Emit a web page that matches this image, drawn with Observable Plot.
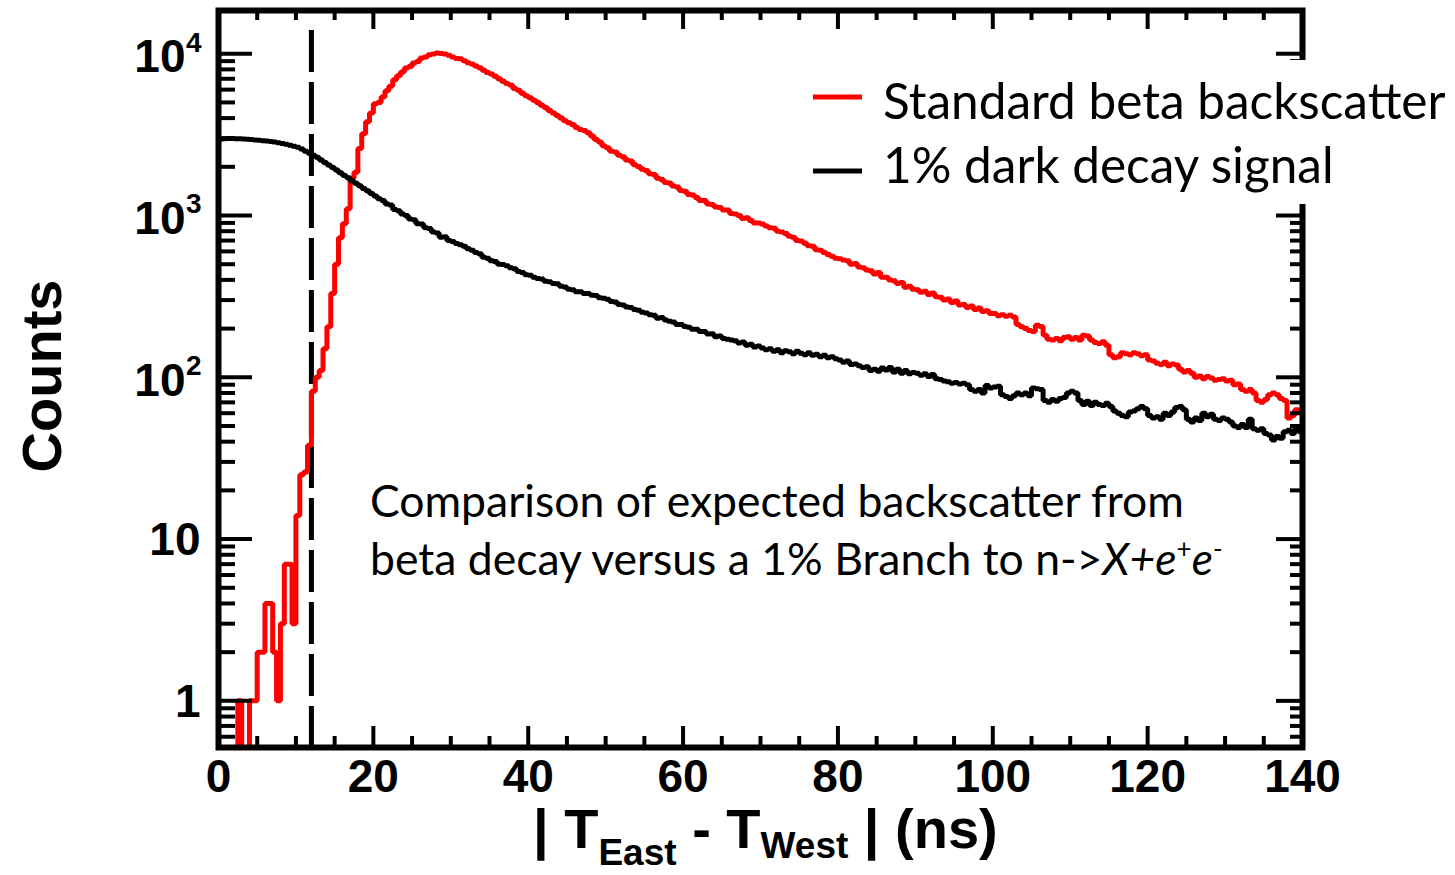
<!DOCTYPE html>
<html><head><meta charset="utf-8">
<script src="https://cdn.jsdelivr.net/npm/d3@7"></script>
<script src="https://cdn.jsdelivr.net/npm/@observablehq/plot@0.6"></script>
<style>
html,body{margin:0;padding:0;background:#fff;}
#chart{position:relative;width:1455px;height:875px;overflow:hidden;background:#fff;}
#chart svg{position:absolute;left:0;top:0;}
</style></head>
<body><div id="chart"></div>
<script>
// ---------------- data (0.5 ns bins, counts) ----------------
const binWidth = 0.5;
const redCounts = [
  0,0,0,0,0, 1,0,0,1,1, 2,2,4,4,2, 1,3,7,7,3,
  14,25,26,38,82,100,110,150,205,330, 500,730,890,1100,1700,1850,2600,3200,3800,4300,
  4900,5000,5400,5900,6300,6900,7300,7700,8150,8350, 8750,8950,9400,9550,9850,9950,10100,10050,9950,9800,
  9550,9350,9300,9050,8800,8650,8400,8200,7900,7650, 7500,7250,7000,6750,6550,6400,6100,5950,5700,5500,
  5350,5150,5000,4800,4650,4450,4300,4150,4000,3850, 3750,3650,3500,3400,3350,3250,3100,2950,2850,2700,
  2620,2500,2470,2360,2310,2200,2170,2060,2010,1930, 1900,1810,1790,1700,1670,1600,1590,1520,1500,1430,
  1410,1350,1340,1290,1240,1240,1180,1170,1130,1120, 1080,1080,1030,1020,1000,960,970,930,900,900,
  885,860,840,835,800,790,775,745,735,700, 695,675,650,645,615,610,590,575,560,545,
  540,530,525,500,505,480,475,460,455,435, 445,415,415,400,395,380,385,360,365,350,
  348,336,340,325,332,315,312,300,305,290, 296,280,282,270,276,262,268,255,258,248,
  248,240,244,238,242,236,212,205,200,195, 192,210,206,182,172,170,174,168,176,178,
  172,176,170,182,180,170,164,162,166,158, 138,132,134,142,140,138,142,140,136,138,
  128,126,122,120,124,118,121,119,112,108, 110,106,100,102,98,101,99,96,97,98,
  95,96,90,91,84,82,84,80,72,70, 73,78,80,78,74,72,56,58,63,61
];
const blackCounts = [
  2960,2980,2990,2990,2980,2980,2970,2960,2950,2930, 2920,2900,2890,2870,2850,2820,2790,2760,2720,2680,
  2640,2580,2500,2430,2360,2290,2200,2130,2050,1980, 1910,1840,1770,1710,1640,1580,1530,1470,1420,1370,
  1320,1270,1240,1180,1160,1090,1070,1020,1000,950, 940,890,885,840,830,790,780,735,740,700,
  692,672,660,645,622,610,590,580,552,545, 525,520,500,498,490,475,468,450,445,430,
  428,415,408,405,392,390,380,378,365,362, 350,348,338,338,330,330,322,320,310,308,
  304,294,292,282,280,272,270,262,260,252, 250,244,242,232,234,226,222,220,212,212,
  206,204,198,198,192,192,185,186,178,180, 174,172,170,168,163,165,158,160,154,156,
  152,148,150,145,148,142,146,144,140,145, 141,138,142,137,139,134,137,132,134,130,
  128,124,126,120,121,118,115,116,110,112, 109,114,111,115,108,112,106,110,105,107,
  106,103,105,101,104,98,97,95,94,92, 93,91,92,90,84,82,84,80,89,86,
  87,88,78,76,74,77,80,78,80,77, 86,85,84,72,70,73,71,74,75,80,
  82,80,72,68,71,67,70,68,67,69, 66,62,60,58,57,61,62,64,66,64,
  58,56,57,55,60,58,61,65,66,63, 55,53,56,54,60,57,59,55,54,56,
  55,53,50,49,51,49,55,48,47,48, 45,44,41,43,42,46,47,45,48,46
];
const seriesNames = ["Standard beta backscatter", "1% dark decay signal"];
const seriesColors = ["#ff0000", "#000000"];
const cutoffNs = 12;
const xDomain = [0, 140];
const yDomain = [0.515, 18500];
const xMajorTicks = [0, 20, 40, 60, 80, 100, 120, 140];
const yPlainTicks = [1, 10];
const yPowerTicks = [100, 1000, 10000];
const yPowerExponents = ["2", "3", "4"];
const xLabelParts = ["| T", "East", " - T", "West", " | (ns)"];
const yLabel = "Counts";
const noteLine1 = "Comparison of expected backscatter from";
const noteLine2 = "beta decay versus a 1% Branch to n->";

// ---------------- layout ----------------
const W = 1455, H = 875;
const mL = 218, mR = 153, mT = 10, mB = 128;
const innerW = W - mL - mR, innerH = H - mT - mB;

function histRows(counts) {
  const rows = counts.map((c, i) => ({x: i * binWidth, y: c > 0 ? c : 0.2}));
  rows.push({x: counts.length * binWidth, y: rows[rows.length - 1].y});
  return rows;
}
const redRows = histRows(redCounts);
const blackRows = histRows(blackCounts);

const xMinor = d3.range(5, 140, 5).filter(v => v % 20 !== 0);
const yMinor = [];
for (let d = -1; d <= 4; d++) for (let k = 2; k <= 9; k++) {
  const v = k * Math.pow(10, d);
  if (v > yDomain[0] && v < yDomain[1]) yMinor.push(v);
}
const yMajorAll = [...yPlainTicks, ...yPowerTicks];
const tk = {stroke: "#000", strokeWidth: 4};

const chart = Plot.plot({
  width: W, height: H,
  marginLeft: mL, marginRight: mR, marginTop: mT, marginBottom: mB,
  x: {domain: xDomain, axis: null},
  y: {type: "log", domain: yDomain, axis: null},
  style: {fontFamily: "'Liberation Sans', Arial, sans-serif", background: "transparent", overflow: "visible"},
  marks: [
    Plot.ruleX([cutoffNs], {x: d => d, stroke: "#000", strokeWidth: 5, strokeDasharray: "42,10", insetTop: 20}),
    Plot.line(redRows, {x: "x", y: "y", curve: "step-after", stroke: seriesColors[0], strokeWidth: 5, strokeLinejoin: "miter", clip: true}),
    Plot.line(blackRows, {x: "x", y: "y", curve: "step-after", stroke: seriesColors[1], strokeWidth: 5, strokeLinejoin: "miter", clip: true}),
    // bottom / top x ticks
    Plot.tickX(xMajorTicks, {x: d => d, ...tk, insetTop: innerH - 21}),
    Plot.tickX(xMinor, {x: d => d, ...tk, insetTop: innerH - 11}),
    Plot.tickX(xMajorTicks, {x: d => d, ...tk, insetBottom: innerH - 19}),
    Plot.tickX(xMinor, {x: d => d, ...tk, insetBottom: innerH - 10}),
    // left / right y ticks
    Plot.tickY(yMajorAll, {y: d => d, ...tk, insetRight: innerW - 34}),
    Plot.tickY(yMinor, {y: d => d, ...tk, insetRight: innerW - 17}),
    Plot.tickY(yMajorAll, {y: d => d, ...tk, insetLeft: innerW - 26}),
    Plot.tickY(yMinor, {y: d => d, ...tk, insetLeft: innerW - 12}),
    Plot.frame({stroke: "#000", strokeWidth: 6}),
    // tick labels
    Plot.text(xMajorTicks, {x: d => d, text: d => String(d), frameAnchor: "bottom", lineAnchor: "top", dy: 12,
      fontSize: 46, fontWeight: "bold", fill: "#000"}),
    Plot.text(yPlainTicks, {y: d => d, text: d => String(d), frameAnchor: "left", textAnchor: "end", dx: -18, dy: 1,
      fontSize: 46, fontWeight: "bold", fill: "#000"}),
    Plot.text(yPowerTicks, {y: d => d, text: () => "10", frameAnchor: "left", textAnchor: "end", dx: -33, dy: 4,
      fontSize: 46, fontWeight: "bold", fill: "#000"}),
    Plot.text(yPowerTicks, {y: d => d, text: (d, i) => yPowerExponents[i], frameAnchor: "left", textAnchor: "end", dx: -17, dy: -11,
      fontSize: 28, fontWeight: "bold", fill: "#000"})
  ]
});
document.getElementById("chart").appendChild(chart);

// ---------------- labels, legend, annotation ----------------
const ov = d3.select("#chart").append("svg")
  .attr("width", W).attr("height", H)
  .style("pointer-events", "none");

// y label
ov.append("text")
  .attr("transform", "translate(61,376) rotate(-90)")
  .attr("text-anchor", "middle")
  .attr("font-family", "'Liberation Sans', Arial, sans-serif")
  .attr("font-weight", "bold").attr("font-size", 56)
  .text(yLabel);

// x label with subscripts
const xl = ov.append("text")
  .attr("x", 533).attr("y", 848)
  .attr("font-family", "'Liberation Sans', Arial, sans-serif")
  .attr("font-weight", "bold").attr("font-size", 56);
xl.append("tspan").text(xLabelParts[0]);
xl.append("tspan").attr("font-size", 37).attr("dy", 17).text(xLabelParts[1]);
xl.append("tspan").attr("dy", -17).text(xLabelParts[2]);
xl.append("tspan").attr("font-size", 37).attr("dy", 10).text(xLabelParts[3]);
xl.append("tspan").attr("dy", -10).text(xLabelParts[4]);

// legend (white box hides the frame behind it, as in the original)
const legendFont = "Lato, 'Open Sans', sans-serif";
ov.append("rect").attr("x", 800).attr("y", 60).attr("width", 655).attr("height", 144).attr("fill", "#fff");
seriesNames.forEach((name, i) => {
  const yy = [97, 171][i];
  ov.append("line").attr("x1", 813).attr("x2", 862).attr("y1", yy).attr("y2", yy)
    .attr("stroke", seriesColors[i]).attr("stroke-width", 5);
  ov.append("text").attr("x", 883).attr("y", [119, 183][i])
    .attr("font-family", legendFont).attr("font-size", 49.5).attr("fill", "#000")
    .text(name);
});

// annotation
ov.append("text").attr("x", 370).attr("y", 517)
  .attr("font-family", legendFont).attr("font-size", 44.5).text(noteLine1);
const n2 = ov.append("text").attr("x", 370).attr("y", 575)
  .attr("font-family", legendFont).attr("font-size", 44.5);
n2.append("tspan").text(noteLine2);
n2.append("tspan").attr("font-style", "italic").text("X+e");
n2.append("tspan").attr("font-size", 26).attr("dy", -17).text("+");
n2.append("tspan").attr("font-style", "italic").attr("dy", 17).text("e");
n2.append("tspan").attr("font-size", 26).attr("dy", -17).text("-");
</script>
</body></html>
